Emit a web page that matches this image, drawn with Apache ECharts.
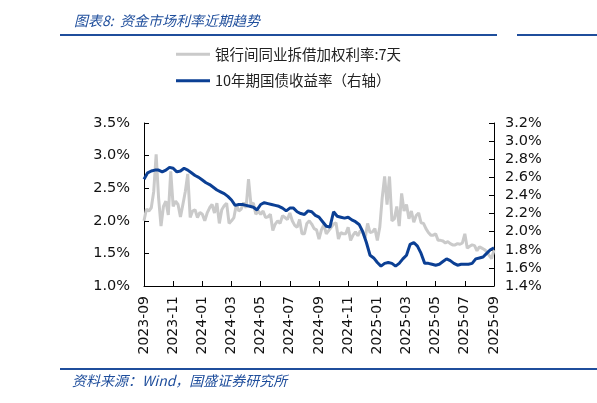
<!DOCTYPE html>
<html>
<head>
<meta charset="utf-8">
<script src="https://cdn.jsdelivr.net/npm/echarts@6/dist/echarts.min.js"></script>
<style>
  html, body { margin: 0; padding: 0; background: #fff; }
  #main { width: 597px; height: 403px; }
</style>
</head>
<body>
<div id="main"></div>
<script>
// x 轴以月份计：0 = 2023-09，24 = 2025-09
var startYear = 2023, startMonth = 9;
var seriesNames = ['银行间同业拆借加权利率:7天', '10年期国债收益率（右轴）'];

// 拆借利率 7天，每月 6 个点
var ibor7d = [
  2.00, 2.18, 2.15, 2.20, 2.45, 3.02, 2.35, 1.92, 2.22, 2.30, 2.09, 2.76,
  2.22, 2.30, 2.25, 2.06, 2.25, 2.45, 2.72, 2.05, 2.15, 2.17, 2.05, 2.13,
  2.10, 2.00, 2.12, 2.20, 2.25, 2.12, 2.27, 1.96, 2.17, 2.23, 2.27, 1.96,
  2.00, 2.05, 2.25, 2.15, 2.18, 2.28, 2.20, 2.64, 2.25, 2.27, 2.10, 2.15,
  2.10, 2.15, 2.05, 2.06, 2.10, 1.85, 1.95, 2.00, 1.96, 2.08, 2.05, 2.02,
  2.12, 2.00, 1.93, 1.90, 2.02, 1.80, 1.80, 1.96, 2.00, 1.95, 1.88, 1.86,
  1.72, 1.86, 1.94, 1.80, 1.85, 1.90, 1.95, 1.97, 1.72, 1.82, 1.80, 1.80,
  1.90, 1.70, 1.78, 1.83, 1.77, 1.85, 1.82, 1.74, 1.96, 1.82, 1.83, 1.88,
  1.70, 1.90, 2.35, 2.68, 2.25, 2.68, 2.00, 2.03, 2.22, 1.92, 2.42, 2.15,
  2.25, 2.03, 2.15, 1.98, 2.08, 2.12, 1.97, 1.96, 1.88, 1.82, 1.78, 1.78,
  1.80, 1.70, 1.70, 1.69, 1.66, 1.68, 1.65, 1.63, 1.63, 1.65, 1.64, 1.66,
  1.80, 1.58, 1.61, 1.63, 1.62, 1.54, 1.60, 1.58, 1.56, 1.53, 1.47, 1.42,
  1.55
];

// 10年期国债收益率，每月 4 个点
var cgb10y = [
  2.58, 2.65, 2.67, 2.68, 2.68, 2.66, 2.68, 2.71, 2.70, 2.66, 2.67, 2.70,
  2.68, 2.65, 2.62, 2.60, 2.57, 2.54, 2.52, 2.49, 2.46, 2.44, 2.42, 2.39,
  2.35, 2.29, 2.30, 2.30, 2.29, 2.28, 2.27, 2.24, 2.30, 2.32, 2.31, 2.30,
  2.29, 2.28, 2.26, 2.23, 2.26, 2.26, 2.22, 2.20, 2.19, 2.23, 2.22, 2.18,
  2.16, 2.11, 2.06, 2.05, 2.22, 2.17, 2.16, 2.15, 2.16, 2.13, 2.11, 2.08,
  2.00, 1.88, 1.74, 1.71, 1.66, 1.62, 1.65, 1.66, 1.65, 1.62, 1.65, 1.70,
  1.74, 1.86, 1.88, 1.84, 1.76, 1.65, 1.65, 1.64, 1.63, 1.64, 1.67, 1.70,
  1.68, 1.65, 1.63, 1.64, 1.64, 1.64, 1.65, 1.70, 1.71, 1.72, 1.76, 1.80,
  1.82
];

var leftTicks = [1.0, 3.5, 0.5];   // min, max, interval
var rightTicks = [1.4, 3.2, 0.2];

function withMonths(arr, perMonth) {
  return arr.map(function (v, i) { return [i / perMonth, v]; });
}

function monthLabel(m) {
  var total = startMonth - 1 + Math.round(m);
  var y = startYear + Math.floor(total / 12);
  var mm = total % 12 + 1;
  return y + '-' + (mm < 10 ? '0' + mm : mm);
}

var myChart = echarts.init(document.getElementById('main'));
var blue = '#0b3f94';
var axisFont = 'DejaVu Sans';

option = {
  animation: false,
  backgroundColor: '#fff',
  title: {
    text: '图表8:  资金市场利率近期趋势',
    left: 69,
    top: 9,
    textStyle: {
      color: '#1f4e9c',
      fontStyle: 'italic',
      fontWeight: 'normal',
      fontSize: 14,
      fontFamily: 'Noto Sans CJK SC'
    }
  },
  graphic: [
    { type: 'rect', shape: { x: 60, y: 34, width: 437, height: 2 }, style: { fill: '#1f4e9c' } },
    { type: 'rect', shape: { x: 517, y: 34, width: 80, height: 2 }, style: { fill: '#1f4e9c' } },
    { type: 'rect', shape: { x: 60, y: 368, width: 537, height: 2 }, style: { fill: '#1f4e9c' } },
    {
      type: 'text', left: 72, top: 374,
      style: {
        text: '资料来源：Wind，国盛证券研究所',
        fill: '#1f4e9c',
        font: 'italic 14px "Noto Sans CJK SC"'
      }
    }
  ],
  legend: {
    orient: 'vertical',
    left: 171,
    top: 42,
    itemWidth: 34,
    itemHeight: 3,
    itemGap: 12,
    icon: 'rect',
    textStyle: { fontSize: 14.5, color: '#222', fontFamily: 'Noto Sans CJK SC' },
    data: seriesNames
  },
  grid: {
    left: 144,
    right: 103,
    top: 123,
    bottom: 117,
    containLabel: false
  },
  xAxis: {
    type: 'value',
    min: 0,
    max: 24,
    interval: 2,
    splitLine: { show: false },
    axisLine: { lineStyle: { color: '#000', width: 1 } },
    axisTick: { inside: true, length: 5, lineStyle: { color: '#000' } },
    axisLabel: {
      rotate: 90,
      margin: 10,
      color: '#111',
      fontSize: 14,
      fontFamily: axisFont,
      formatter: monthLabel
    }
  },
  yAxis: [
    {
      type: 'value',
      min: leftTicks[0],
      max: leftTicks[1],
      interval: leftTicks[2],
      splitLine: { show: false },
      axisLine: { show: true, lineStyle: { color: '#000' } },
      axisTick: { show: true, inside: true, length: 5, lineStyle: { color: '#000' } },
      axisLabel: {
        margin: 14,
        color: '#111',
        fontSize: 14.5,
        fontFamily: axisFont,
        formatter: function (v) { return v.toFixed(1) + '%'; }
      }
    },
    {
      type: 'value',
      position: 'right',
      min: rightTicks[0],
      max: rightTicks[1],
      interval: rightTicks[2],
      splitLine: { show: false },
      axisLine: { show: true, lineStyle: { color: '#000' } },
      axisTick: { show: true, inside: true, length: 5, lineStyle: { color: '#000' } },
      axisLabel: {
        margin: 11,
        color: '#111',
        fontSize: 14.5,
        fontFamily: axisFont,
        formatter: function (v) { return v.toFixed(1) + '%'; }
      }
    }
  ],
  series: [
    {
      name: seriesNames[0],
      type: 'line',
      yAxisIndex: 0,
      showSymbol: false,
      symbol: 'none',
      color: '#cacaca',
      lineStyle: { width: 3, color: '#cacaca' },
      data: withMonths(ibor7d, 6)
    },
    {
      name: seriesNames[1],
      type: 'line',
      yAxisIndex: 1,
      showSymbol: false,
      symbol: 'none',
      color: blue,
      lineStyle: { width: 3, color: blue },
      data: withMonths(cgb10y, 4)
    }
  ]
};

myChart.setOption(option);
</script>
</body>
</html>
